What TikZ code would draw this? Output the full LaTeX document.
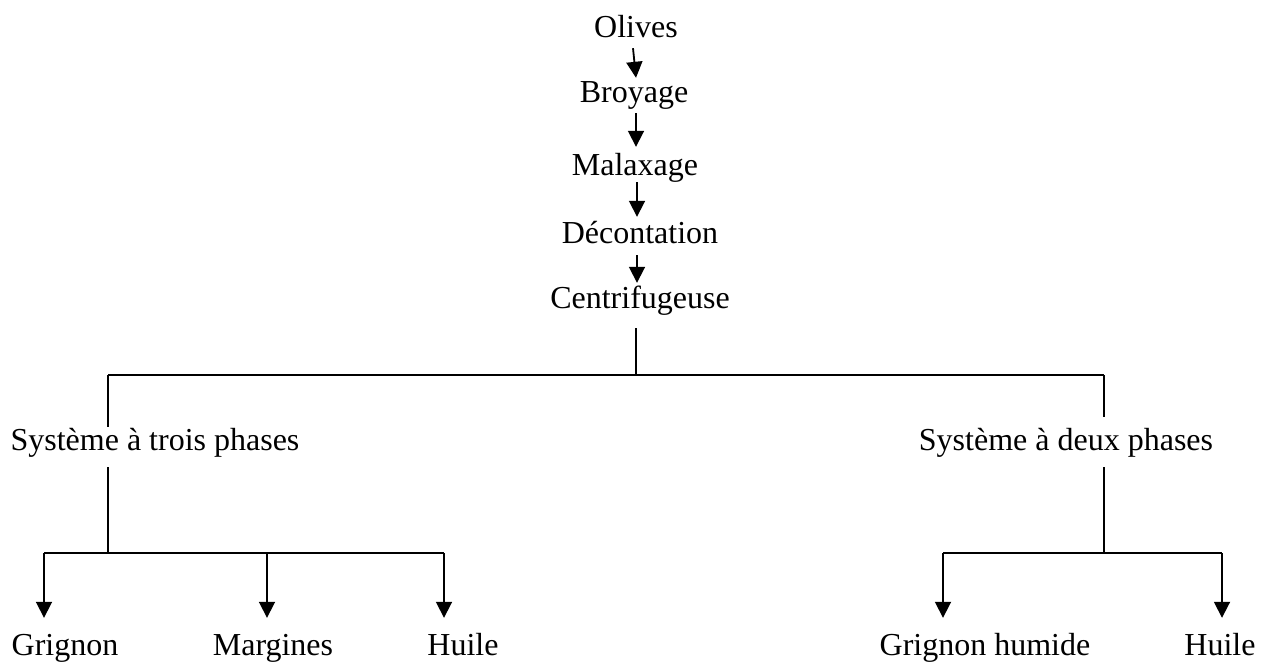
\documentclass[tikz,border=0pt]{standalone}
\usepackage{fontspec}
\setmainfont{Liberation Serif}
\usetikzlibrary{arrows.meta}
\begin{document}
\begin{tikzpicture}[x=1pt,y=-1pt,
  lbl/.style={inner sep=0pt,anchor=base,text height=23pt,text depth=7pt,font=\fontsize{32}{38}\selectfont},
  conn/.style={line width=1.8pt},
  arr/.style={conn,-{Triangle[width=16pt,length=16pt]}}]
\path[use as bounding box] (0,0) rectangle (1266,662);
% nodes
\node[lbl] (olives) at (636,37) {Olives};
\node[lbl] (broyage) at (634,102) {Broyage};
\node[lbl] (malax) at (635,175) {Malaxage};
\node[lbl] (decont) at (640,243) {Décontation};
\node[lbl] (centri) at (640,308) {Centrifugeuse};
\node[lbl] (sys3) at (155,450) {Système à trois phases};
\node[lbl] (sys2) at (1066,450) {Système à deux phases};
\node[lbl] (grig) at (65,655) {Grignon};
\node[lbl] (marg) at (273,655) {Margines};
\node[lbl] (huile1) at (463,655) {Huile};
\node[lbl] (grigh) at (985,655) {Grignon humide};
\node[lbl] (huile2) at (1220,655) {Huile};
% junctions
\coordinate (a1) at (636,0);
\coordinate (hub) at (636,375);
\coordinate (L) at (108,375);
\coordinate (R) at (1104,375);
\coordinate (B3) at (108,553);
\coordinate (g3) at (44,553);
\coordinate (m3) at (267,553);
\coordinate (h3) at (444,553);
\coordinate (B2) at (1104,553);
\coordinate (g2) at (943,553);
\coordinate (h2) at (1222,553);
% vertical chain
\draw[arr] ([xshift=-3pt,yshift=-4pt]olives.south) -- ([xshift=2pt,yshift=1pt]broyage.north);
\draw[arr,shorten <=4pt,shorten >=5pt] (broyage.south -| a1) -- (malax.north -| a1);
\draw[arr,shorten >=3pt] ([xshift=1pt]malax.south -| a1) -- ([xshift=1pt]decont.north -| a1);
\draw[arr,shorten <=5pt,shorten >=2pt] ([xshift=1pt]decont.south -| a1) -- ([xshift=1pt]centri.north -| a1);
% tree
\draw[conn,shorten <=13pt] (centri.south -| hub) -- (hub);
\draw[conn] (L) -- (R);
\draw[conn] (L) -- (L |- sys3.north);
\draw[conn,shorten >=10pt] (R) -- (R |- sys2.north);
\draw[conn,shorten <=10pt] (sys3.south -| L) -- (B3);
\draw[conn,shorten <=10pt] (sys2.south -| R) -- (B2);
\draw[conn] (g3) -- (h3);
\draw[conn] (g2) -- (h2);
\draw[arr,shorten >=14pt] (g3) -- (g3 |- grig.north);
\draw[arr,shorten >=14pt] (m3) -- (m3 |- marg.north);
\draw[arr,shorten >=14pt] (h3) -- (h3 |- huile1.north);
\draw[arr,shorten >=14pt] (g2) -- (g2 |- grigh.north);
\draw[arr,shorten >=14pt] (h2) -- (h2 |- huile2.north);
\end{tikzpicture}
\end{document}
